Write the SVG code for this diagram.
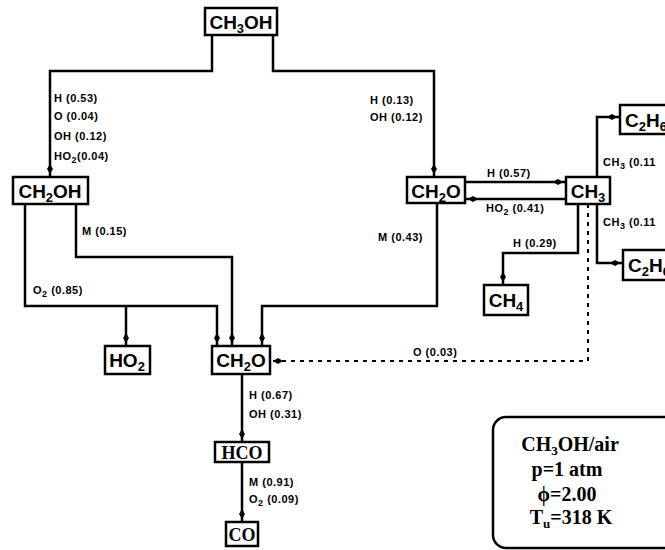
<svg xmlns="http://www.w3.org/2000/svg" width="665" height="550" viewBox="0 0 665 550">
<style>
.box{fill:#fff;stroke:#000;stroke-width:2.5}
.nt{font-family:"Liberation Sans",Arial,sans-serif;font-weight:bold;font-size:19px;fill:#000;text-anchor:middle}
.ns{text-anchor:start}
.lb{font-family:"Liberation Sans",Arial,sans-serif;font-weight:bold;font-size:11px;letter-spacing:0.5px;fill:#000}
.cn{fill:none;stroke:#000;stroke-width:2.5;marker-end:url(#ah)}
.dt{fill:none;stroke:#000;stroke-width:2;stroke-dasharray:4 5;marker-end:url(#ah)}
.lg{font-family:"Liberation Serif","Times New Roman",serif;font-weight:bold;font-size:20px;fill:#000;text-anchor:middle}
</style>
<defs>
<marker id="ah" markerUnits="userSpaceOnUse" markerWidth="16" markerHeight="10" refX="8" refY="0" viewBox="-6 -5 16 10" orient="auto" overflow="visible">
<path d="M-5,0 L0,-3 L5,0 L0,3 Z" fill="#000"/>
</marker>
</defs>
<rect width="665" height="550" fill="#fff"/>
<g id="connectors">
<path class="cn" d="M212,35 V71 H50 V177"/>
<path class="cn" d="M273,35 V71 H434 V177"/>
<path class="cn" d="M25,204 V306 H217 V346"/>
<path class="cn" d="M126,306 V346"/>
<path class="cn" d="M76,204 V257 H232 V346"/>
<path class="cn" d="M437,203 V306 H262 V346"/>
<path class="cn" d="M465,182 H566"/>
<path class="cn" d="M566,199 H465"/>
<path class="cn" d="M597,177 V117 H620"/>
<path class="cn" d="M597,204 V263 H623"/>
<path class="cn" d="M578,204 V253 H503 V285"/>
<path class="dt" d="M588,204 V361 H270"/>
<path class="cn" d="M242,374 V442"/>
<path class="cn" d="M242,462 V522"/>
<text class="lb" x="54" y="102">H (0.53)</text>
<text class="lb" x="54" y="120">O (0.04)</text>
<text class="lb" x="54" y="140">OH (0.12)</text>
<text class="lb" x="54" y="160">HO<tspan dy="3" font-size="9">2</tspan><tspan dy="-3">(0.04)</tspan></text>
<text class="lb" x="370" y="104">H (0.13)</text>
<text class="lb" x="370" y="121">OH (0.12)</text>
<text class="lb" x="82" y="235">M (0.15)</text>
<text class="lb" x="33" y="294">O<tspan dy="3" font-size="9">2</tspan><tspan dy="-3"> (0.85)</tspan></text>
<text class="lb" x="378" y="241">M (0.43)</text>
<text class="lb" x="487" y="177">H (0.57)</text>
<text class="lb" x="486" y="212">HO<tspan dy="3" font-size="9">2</tspan><tspan dy="-3"> (0.41)</tspan></text>
<text class="lb" x="603" y="166">CH<tspan dy="3" font-size="9">3</tspan><tspan dy="-3"> (0.11</tspan></text>
<text class="lb" x="603" y="226">CH<tspan dy="3" font-size="9">3</tspan><tspan dy="-3"> (0.11</tspan></text>
<text class="lb" x="513" y="247">H (0.29)</text>
<text class="lb" x="413" y="356">O (0.03)</text>
<text class="lb" x="249" y="399">H (0.67)</text>
<text class="lb" x="249" y="418">OH (0.31)</text>
<text class="lb" x="249" y="486">M (0.91)</text>
<text class="lb" x="249" y="503">O<tspan dy="3" font-size="9">2</tspan><tspan dy="-3"> (0.09)</tspan></text>
</g>
<g id="n-ch3oh"><rect class="box" x="205" y="8" width="72" height="27"/><text class="nt" x="241" y="29">CH<tspan dy="4" font-size="13">3</tspan><tspan dy="-4">OH</tspan></text></g>
<g id="n-ch2oh"><rect class="box" x="13" y="177" width="75" height="27"/><text class="nt" x="50" y="198">CH<tspan dy="4" font-size="13">2</tspan><tspan dy="-4">OH</tspan></text></g>
<g id="n-ch2o-up"><rect class="box" x="407" y="177" width="58" height="26"/><text class="nt" x="436" y="198">CH<tspan dy="4" font-size="13">2</tspan><tspan dy="-4">O</tspan></text></g>
<g id="n-ch3"><rect class="box" x="566" y="177" width="44" height="27"/><text class="nt" x="588" y="198">CH<tspan dy="4" font-size="13">3</tspan></text></g>
<g id="n-c2h6-top"><rect class="box" x="620" y="105" width="60" height="29"/><text class="nt ns" x="625" y="127">C<tspan dy="4" font-size="13">2</tspan><tspan dy="-4">H</tspan><tspan dy="4" font-size="13">6</tspan></text></g>
<g id="n-c2h6-bot"><rect class="box" x="623" y="250" width="60" height="30"/><text class="nt ns" x="628" y="272">C<tspan dy="4" font-size="13">2</tspan><tspan dy="-4">H</tspan><tspan dy="4" font-size="13">6</tspan></text></g>
<g id="n-ch4"><rect class="box" x="484" y="285" width="44" height="30"/><text class="nt" x="506" y="307">CH<tspan dy="4" font-size="13">4</tspan></text></g>
<g id="n-ho2"><rect class="box" x="105" y="346" width="45" height="28"/><text class="nt" x="127" y="367">HO<tspan dy="4" font-size="13">2</tspan></text></g>
<g id="n-ch2o-low"><rect class="box" x="212" y="346" width="58" height="28"/><text class="nt" x="241" y="367">CH<tspan dy="4" font-size="13">2</tspan><tspan dy="-4">O</tspan></text></g>
<g id="n-hco"><rect class="box" x="215" y="442" width="54" height="20"/><text class="nt" x="242" y="459" style="font-family:'Liberation Serif',serif;font-size:18px">HCO</text></g>
<g id="n-co"><rect class="box" x="226" y="522" width="32" height="24"/><text class="nt" x="242" y="541" style="font-family:'Liberation Serif',serif;font-size:18px">CO</text></g>
<g id="legend">
<rect x="493" y="417" width="190" height="131" rx="13" ry="13" fill="#fff" stroke="#000" stroke-width="2.5"/>
<text class="lg" x="570" y="451">CH<tspan dy="4" font-size="13">3</tspan><tspan dy="-4">OH/air</tspan></text>
<text class="lg" x="567" y="476">p=1 atm</text>
<text class="lg" x="567" y="501">ϕ=2.00</text>
<text class="lg" x="571" y="524">T<tspan dy="4" font-size="13">u</tspan><tspan dy="-4">=318 K</tspan></text>
</g>
</svg>
